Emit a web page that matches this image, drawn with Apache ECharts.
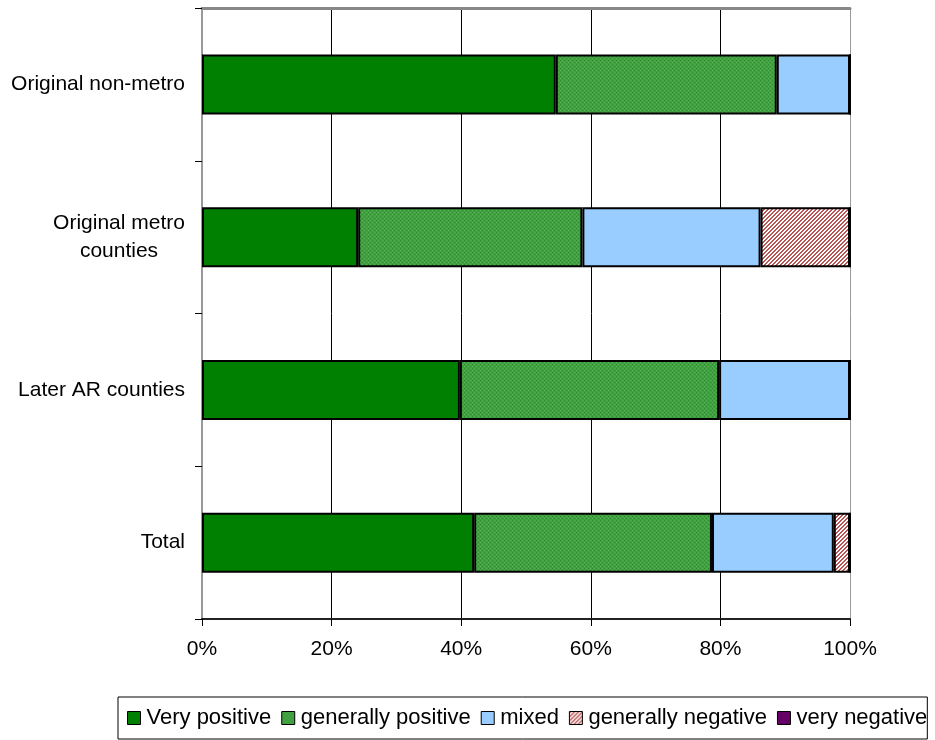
<!DOCTYPE html>
<html>
<head>
<meta charset="utf-8">
<style>html,body{margin:0;padding:0;background:#fff}#c{width:935px;height:740px}</style>
<script src="https://cdn.jsdelivr.net/npm/echarts@6/dist/echarts.min.js"></script>
</head>
<body>
<div id="c"></div>
<script>
var categories = ['Original non-metro', 'Original metro\ncounties', 'Later AR counties', 'Total'];
var seriesNames = ['Very positive', 'generally positive', 'mixed', 'generally negative', 'very negative'];
var veryPositive = [54.6, 24.1, 39.8, 42.0];
var generallyPositive = [34.1, 34.6, 40.0, 36.7];
var mixed = [11.3, 27.5, 20.2, 18.8];
var generallyNegative = [0, 13.8, 0, 2.5];
var veryNegative = [0, 0, 0, 0];
var xTicks = [0, 20, 40, 60, 80, 100];

function dotPattern() {
  var c = document.createElement('canvas'); c.width = 4; c.height = 4;
  var g = c.getContext('2d');
  g.fillStyle = '#42a242'; g.fillRect(0, 0, 4, 4);
  g.fillStyle = '#2c8a2c'; g.fillRect(0, 0, 1, 1); g.fillRect(2, 2, 1, 1);
  g.fillStyle = '#56b256'; g.fillRect(2, 0, 1, 1); g.fillRect(0, 2, 1, 1);
  return c;
}
function hatchPattern() {
  var c = document.createElement('canvas'); c.width = 4; c.height = 4;
  var g = c.getContext('2d');
  g.fillStyle = '#ffffff'; g.fillRect(0, 0, 4, 4);
  g.fillStyle = '#bb5555';
  for (var y = 0; y < 4; y++) for (var x = 0; x < 4; x++) {
    var k = (x + y) % 4;
    if (k === 0 || k === 1) g.fillRect(x, y, 1, 1);
  }
  return c;
}
var colors = ['#008000', {image: dotPattern(), repeat: 'repeat'}, '#99ccff', {image: hatchPattern(), repeat: 'repeat'}, '#660066'];
var dataSets = [veryPositive, generallyPositive, mixed, generallyNegative, veryNegative];

var font = '"Liberation Sans", Arial, sans-serif';
var chart = echarts.init(document.getElementById('c'));
var series = seriesNames.map(function (n, i) {
  return {
    name: n, type: 'bar', stack: 'all', barWidth: 60,
    itemStyle: {color: colors[i], borderColor: '#000', borderWidth: 2},
    emphasis: {disabled: true},
    data: dataSets[i]
  };
});
chart.setOption({
  animation: false,
  textStyle: {fontFamily: font},
  grid: {left: 202, right: 85, top: 8, bottom: 121},
  xAxis: [{
    type: 'value', min: 0, max: 100, interval: 20,
    axisLine: {show: true, lineStyle: {color: '#222', width: 2}},
    axisTick: {show: true, length: 7, lineStyle: {color: '#000'}},
    axisLabel: {formatter: '{value}%', color: '#000', fontSize: 21, fontFamily: font, margin: 20},
    splitLine: {show: true, lineStyle: {color: ['#000', '#000', '#000', '#000', '#000', '#999'], width: 1}}
  }, {
    type: 'value', position: 'top', min: 0, max: 100, interval: 20,
    axisLine: {show: true, lineStyle: {color: '#888', width: 3}},
    axisTick: {show: false}, axisLabel: {show: false}, splitLine: {show: false}
  }],
  yAxis: [{
    type: 'category', inverse: true, data: categories,
    axisLine: {show: true, lineStyle: {color: '#000', width: 2}},
    axisTick: {show: true, length: 7, lineStyle: {color: '#000'}},
    axisLabel: {
      color: '#000', fontSize: 21, fontFamily: font, margin: 17,
      formatter: function (v) { return v.indexOf('\n') >= 0 ? '{c|' + v + '}' : v; },
      rich: {c: {width: 132, align: 'center', fontSize: 21, fontFamily: font, color: '#000', lineHeight: 28}}
    }
  }, {
    type: 'category', position: 'right', inverse: true, data: categories,
    axisLine: {show: true, lineStyle: {color: '#999', width: 2}},
    axisTick: {show: false}, axisLabel: {show: false}
  }],
  legend: {
    left: 118, top: 697, width: 840, orient: 'horizontal',
    data: seriesNames,
    padding: [10, 0, 10, 9],
    borderColor: '#000', borderWidth: 1, backgroundColor: '#fff',
    itemWidth: 13, itemHeight: 13, itemGap: 10,
    icon: 'rect',
    itemStyle: {borderColor: '#000', borderWidth: 1},
    textStyle: {color: '#000', fontSize: 22, fontFamily: font, padding: [0, 0, 0, 1]},
    selectedMode: false
  },
  series: series
});
</script>
</body>
</html>
